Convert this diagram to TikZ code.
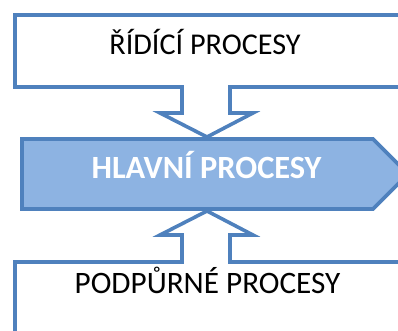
\documentclass[tikz,border=0pt]{standalone}
\usepackage{fontspec}
\setmainfont{Carlito}
\definecolor{edgeblue}{HTML}{4F81BD}
\definecolor{fillblue}{HTML}{8DB3E2}
\begin{document}
\begin{tikzpicture}[x=1pt,y=-1pt,
  outline/.style={draw=edgeblue,line width=3.6pt,line join=miter},
  label/.style={text=black,inner sep=0pt,anchor=base}]
\useasboundingbox (0,0) rectangle (398,331);
\clip (0,0) rectangle (398,331);
% upper callout box with downward arrow
\draw[outline,fill=white] (15,15) -- (420,15) -- (420,87) -- (230,87) -- (230,113)
  -- (253,113) -- (207,137) -- (160,113) -- (182,113) -- (182,87) -- (15,87) -- cycle;
% lower callout box with upward arrow
\draw[outline,fill=white] (15,350) -- (15,262) -- (182,262) -- (182,235) -- (160,235)
  -- (207,211) -- (253,235) -- (230,235) -- (230,262) -- (420,262) -- (420,350) -- cycle;
% main process chevron
\draw[outline,fill=fillblue] (22,139) -- (373,139) -- (408,174) -- (373,209) -- (22,209) -- cycle;
\node[label,font=\fontsize{30.2}{32}\selectfont] (ridici) at (205,55) {ŘÍDÍCÍ PROCESY};
\node[label,text=white,font=\bfseries\fontsize{32.4}{34}\selectfont] (hlavni) at (206.5,178) {HLAVNÍ PROCESY};
\node[label,font=\fontsize{31.2}{33}\selectfont] (podpurne) at (207.5,293) {PODPŮRNÉ PROCESY};
\end{tikzpicture}
\end{document}
